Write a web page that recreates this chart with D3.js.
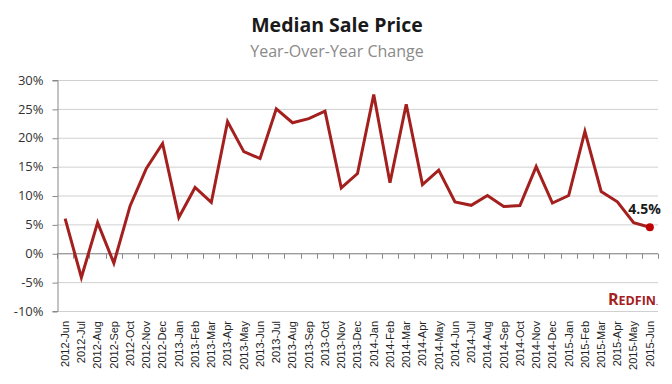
<!DOCTYPE html>
<html>
<head>
<meta charset="utf-8">
<script src="https://cdn.jsdelivr.net/npm/d3@7"></script>
<style>
  body { margin: 0; background: #fff; }
  svg { display: block; }
</style>
</head>
<body>
<div id="chart"></div>
<script>
// months shown on the x axis
var months = ["2012-Jun","2012-Jul","2012-Aug","2012-Sep","2012-Oct","2012-Nov","2012-Dec",
  "2013-Jan","2013-Feb","2013-Mar","2013-Apr","2013-May","2013-Jun","2013-Jul","2013-Aug",
  "2013-Sep","2013-Oct","2013-Nov","2013-Dec","2014-Jan","2014-Feb","2014-Mar","2014-Apr",
  "2014-May","2014-Jun","2014-Jul","2014-Aug","2014-Sep","2014-Oct","2014-Nov","2014-Dec",
  "2015-Jan","2015-Feb","2015-Mar","2015-Apr","2015-May","2015-Jun"];

// year-over-year change in %
var yoy = [6.0, -4.2, 5.3, -1.7, 8.2, 14.7, 19.0,
  6.2, 11.4, 8.8, 22.8, 17.6, 16.4, 25.0, 22.6,
  23.3, 24.6, 11.3, 13.8, 27.5, 12.2, 25.8, 11.9,
  14.4, 8.9, 8.3, 10.0, 8.1, 8.25, 15.0, 8.7,
  10.0, 21.1, 10.7, 8.9, 5.3, 4.5];

var yTicks = [-10, -5, 0, 5, 10, 15, 20, 25, 30];

var svgWidth = 672;
var svgHeight = 384;
var margin = { top: 80, right: 14, bottom: 73, left: 57 };
var width = svgWidth - margin.left - margin.right;
var height = svgHeight - margin.top - margin.bottom;

var svg = d3.select("#chart")
  .append("svg")
  .attr("width", svgWidth)
  .attr("height", svgHeight);

// title
svg.append("text")
  .attr("x", 337)
  .attr("y", 32)
  .attr("text-anchor", "middle")
  .style("font-family", "'Open Sans', sans-serif")
  .style("font-weight", "bold")
  .style("font-size", "19.5px")
  .style("fill", "#1a1a1a")
  .text("Median Sale Price");

svg.append("text")
  .attr("x", 337)
  .attr("y", 57)
  .attr("text-anchor", "middle")
  .style("font-family", "'Open Sans', sans-serif")
  .style("font-size", "16px")
  .style("fill", "#8a8a8a")
  .text("Year-Over-Year Change");

var chartGroup = svg.append("g")
  .attr("transform", `translate(${margin.left}, ${margin.top})`);

var xScale = d3.scaleBand()
  .domain(months)
  .range([0, width])
  .padding(0);

var yScale = d3.scaleLinear()
  .domain([-10, 30])
  .range([height, 0]);

// gridlines
chartGroup.append("g")
  .selectAll("line")
  .data(yTicks)
  .enter()
  .append("line")
  .attr("x1", 0)
  .attr("x2", width)
  .attr("y1", d => yScale(d) + 0.5)
  .attr("y2", d => yScale(d) + 0.5)
  .style("stroke", "#d0d0d0")
  .style("stroke-width", 1);

// y axis
var yAxis = d3.axisLeft(yScale)
  .tickValues(yTicks)
  .tickSize(5)
  .tickPadding(9)
  .tickFormat(d => d + "%");

var yAxisG = chartGroup.append("g")
  .attr("transform", "translate(0.5,0)")
  .call(yAxis);
yAxisG.select(".domain").style("stroke", "#888");
yAxisG.selectAll(".tick line").style("stroke", "#888").attr("transform", "translate(0,0.5)");
yAxisG.selectAll(".tick text")
  .style("font-family", "'Open Sans', sans-serif")
  .style("font-size", "13px")
  .style("fill", "#333");

// zero line with category ticks
var boundaries = months.map(m => xScale(m)).concat([width]);
var zeroG = chartGroup.append("g")
  .attr("transform", `translate(0, ${yScale(0) + 0.5})`);
zeroG.append("line")
  .attr("x1", 0)
  .attr("x2", width)
  .style("stroke", "#888");
zeroG.selectAll(".cat-tick")
  .data(boundaries)
  .enter()
  .append("line")
  .attr("x1", d => Math.round(d) + 0.5)
  .attr("x2", d => Math.round(d) + 0.5)
  .attr("y1", 0)
  .attr("y2", 5)
  .style("stroke", "#888");

// x labels at the bottom, rotated
var xAxis = d3.axisBottom(xScale).tickSize(0).tickPadding(0);
var xAxisG = chartGroup.append("g")
  .attr("transform", `translate(0, ${height})`)
  .call(xAxis);
xAxisG.select(".domain").remove();
xAxisG.selectAll(".tick text")
  .attr("transform", "rotate(-90)")
  .attr("x", -10)
  .attr("y", 0)
  .attr("dy", "0.35em")
  .attr("text-anchor", "end")
  .style("font-family", "'Liberation Sans', Arial, sans-serif")
  .style("font-size", "11px")
  .style("fill", "#222");

// the line
var line = d3.line()
  .x((d, i) => xScale(months[i]) + xScale.bandwidth() / 2)
  .y(d => yScale(d));

chartGroup.append("path")
  .datum(yoy)
  .attr("d", line)
  .style("fill", "none")
  .style("stroke", "#a3201f")
  .style("stroke-width", 3)
  .style("stroke-linejoin", "miter");

// last point marker + label
var last = yoy.length - 1;
chartGroup.append("circle")
  .attr("cx", xScale(months[last]) + xScale.bandwidth() / 2)
  .attr("cy", yScale(yoy[last]))
  .attr("r", 4)
  .style("fill", "#c00000");

chartGroup.append("text")
  .attr("x", xScale(months[last]) + xScale.bandwidth() / 2 + 11)
  .attr("y", yScale(yoy[last]) - 13)
  .attr("text-anchor", "end")
  .style("font-family", "'Open Sans', sans-serif")
  .style("font-weight", "bold")
  .style("font-size", "14px")
  .style("fill", "#1a1a1a")
  .text(yoy[last] + "%");

// logo
var logo = svg.append("text")
  .attr("x", 658)
  .attr("y", 305)
  .attr("text-anchor", "end")
  .style("font-family", "'Open Sans', sans-serif")
  .style("font-weight", "bold")
  .style("fill", "#a3201f");
logo.append("tspan").style("font-size", "16px").text("R");
logo.append("tspan").style("font-size", "12.5px").text("EDFIN");
logo.append("tspan").style("font-size", "7px").text(".");
</script>
</body>
</html>
